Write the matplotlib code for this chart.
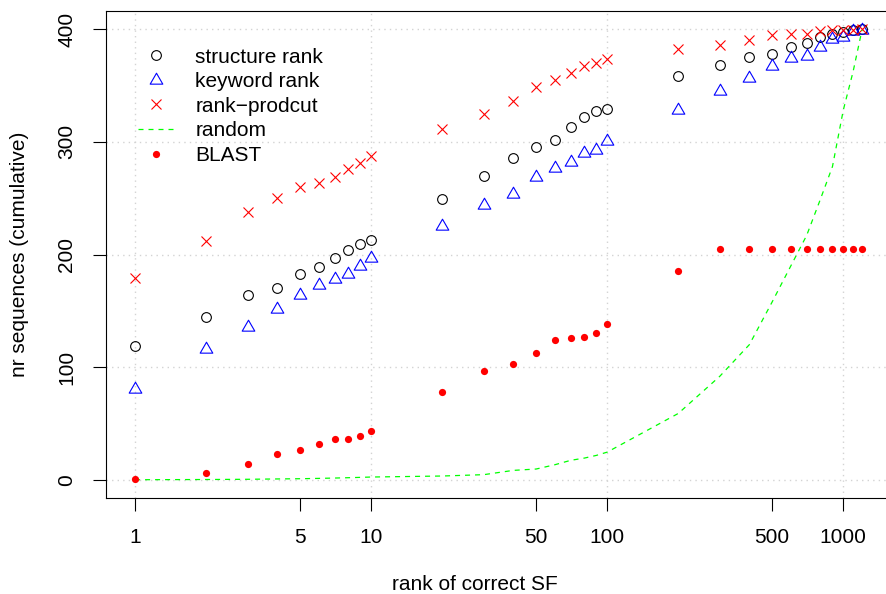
import matplotlib
matplotlib.use("Agg")
import matplotlib.pyplot as plt
from matplotlib.path import Path

plt.rcParams['font.family'] = ['Liberation Sans', 'DejaVu Sans']
plt.rcParams['font.size'] = 15

# rank cutoffs (x) and cumulative counts
ranks = [1, 2, 3, 4, 5, 6, 7, 8, 9, 10,
         20, 30, 40, 50, 60, 70, 80, 90, 100,
         200, 300, 400, 500, 600, 700, 800, 900, 1000, 1100, 1200]

structure_rank = [119, 145, 164, 170, 183, 189, 197, 204, 209, 213,
                  249, 270, 286, 295, 302, 313, 322, 327, 329,
                  358, 368, 375, 378, 384, 388, 393, 396, 397, 399, 400]

keyword_rank = [81, 116, 136, 152, 164, 173, 178, 183, 190, 197,
                225, 244, 254, 269, 277, 282, 290, 293, 301,
                328, 345, 357, 367, 374, 376, 384, 391, 393, 398, 399]

rank_product = [179, 212, 238, 250, 260, 263, 269, 276, 281, 287,
                311, 325, 336, 349, 355, 361, 367, 370, 373,
                382, 386, 390, 395, 396, 396, 398, 399, 399, 399, 400]

random_exp = [0.2, 0.4, 0.6, 0.9, 1.1, 1.4, 1.7, 2.0, 2.3, 2.6,
              3.5, 4.7, 8.5, 9.7, 13.5, 17.4, 19.4, 21.8, 24.7,
              59, 92, 120, 158, 190, 217, 249, 278, 328, 362, 399]

blast = [1, 6, 14, 23, 27, 32, 36, 36, 39, 43,
         78, 97, 103, 113, 124, 126, 127, 130, 138,
         185, 205, 205, 205, 205, 205, 205, 205, 205, 205, 205]

x_ticks = [1, 5, 10, 50, 100, 500, 1000]
y_ticks = [0, 100, 200, 300, 400]
grid_x = [1, 10, 100, 1000]

# R-style open triangle, centred on its centroid
tri = Path([(0, 1.555), (1.347, -0.778), (-1.347, -0.778), (0, 1.555)],
           [Path.MOVETO, Path.LINETO, Path.LINETO, Path.CLOSEPOLY])

fig = plt.figure(figsize=(8.86, 5.94), dpi=100)
ax = fig.add_axes([106 / 886, 1 - 498 / 594, 785 / 886, 487 / 594])
ax.set_xscale('log')
ax.set_xlim(0.753, 1593)
ax.set_ylim(-16, 416)

for gx in grid_x:
    ax.axvline(gx, color='lightgray', lw=1, ls=(0, (1, 3)), zorder=0)
for gy in y_ticks:
    ax.axhline(gy, color='lightgray', lw=1, ls=(0, (1, 3)), zorder=0)

ax.plot(ranks, structure_rank, 'o', mfc='none', mec='black', ms=7, mew=0.8,
        label='structure rank')
ax.plot(ranks, keyword_rank, marker=tri, ls='none', mfc='none', mec='blue',
        ms=10.5, mew=0.8, label='keyword rank')
ax.plot(ranks, rank_product, 'x', color='red', ms=7, mew=0.8,
        label='rank\u2212prodcut')
ax.plot(ranks, random_exp, color='#00ff00', lw=0.9, ls=(0, (4, 4)),
        label='random')
ax.plot(ranks, blast, 'o', color='red', ms=5.2, mew=0, label='BLAST')

ax.set_xticks(x_ticks)
ax.set_xticklabels([str(t) for t in x_ticks])
ax.xaxis.set_minor_locator(plt.NullLocator())
ax.set_yticks(y_ticks)
ax.set_yticklabels([str(t) for t in y_ticks], rotation=90, va='center')
ax.tick_params(direction='out', length=9.4, width=0.8, pad=12)
ax.spines['right'].set_visible(False)

for sp in ax.spines.values():
    sp.set_linewidth(0.8)

ax.set_xlabel('rank of correct SF')
ax.set_ylabel('nr sequences (cumulative)')
ax.xaxis.set_label_coords(0.47, -0.158)
ax.yaxis.set_label_coords(-0.11, 0.5)
ax.yaxis.label.set_va('center')

ax.legend(loc='upper left', bbox_to_anchor=(0.0408, 0.925), frameon=False,
          borderpad=0, borderaxespad=0, handlelength=1.75, handletextpad=1.0,
          labelspacing=0.27, fontsize=15)

fig.savefig('out.png', dpi=100)
